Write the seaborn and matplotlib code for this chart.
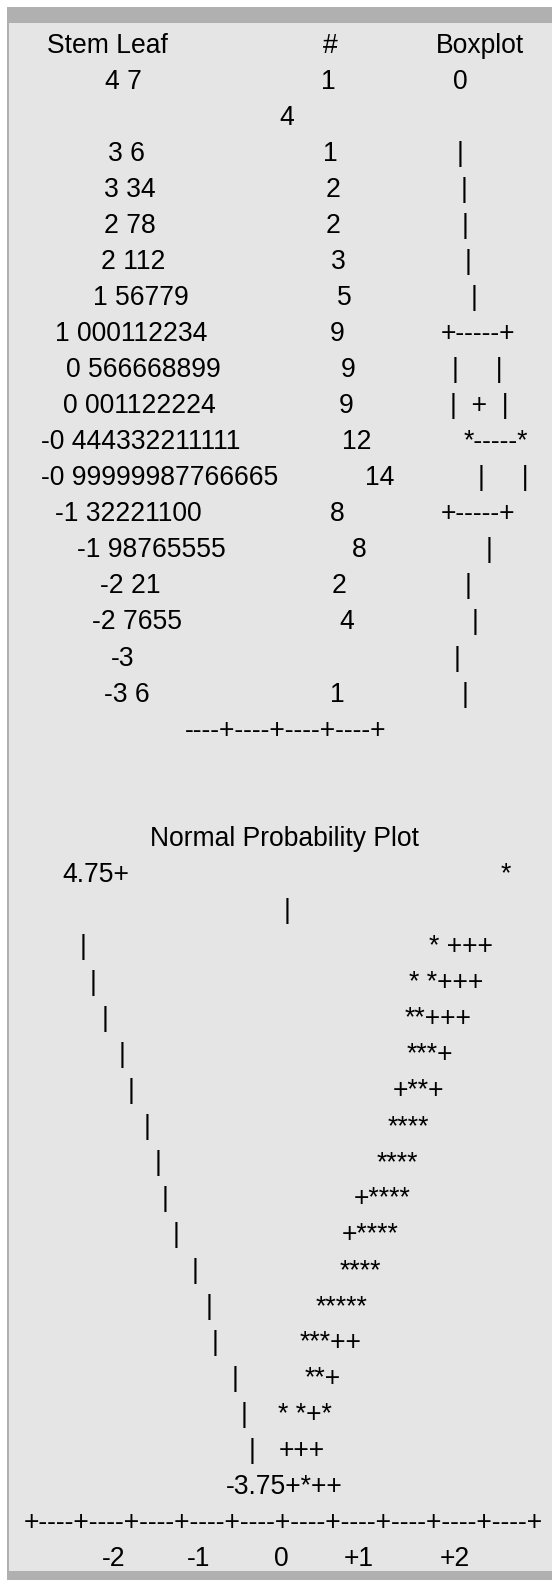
import matplotlib
matplotlib.use('Agg')
import matplotlib.pyplot as plt
from matplotlib.patches import Rectangle
import seaborn as sns

sns.set_theme(style='white')
plt.rcParams['font.family'] = ['Liberation Sans', 'DejaVu Sans']

# ---- data: stem-and-leaf table ----
stems = ['4', '4', '3', '3', '2', '2', '1', '1', '0', '0', '-0', '-0',
         '-1', '-1', '-2', '-2', '-3', '-3']
leaves = ['7', '', '6', '34', '78', '112', '56779', '000112234', '566668899',
          '001122224', '444332211111', '99999987766665', '32221100',
          '98765555', '21', '7655', '', '6']
counts = ['1', '', '1', '2', '2', '3', '5', '9', '9', '9', '12', '14', '8',
          '8', '2', '4', '', '1']
boxplot = ['0', '', '|', '|', '|', '|', '|', '+-----+', '|     |',
           '|  +  |', '*-----*', '|     |', '+-----+', '|', '|', '|', '|', '|']
stem_axis = '----+----+----+----+'

# ---- data: normal probability plot (text rows, top to bottom) ----
npp_title = 'Normal Probability Plot'
npp_ymax, npp_ymin = '4.75+', '-3.75+'
npp_top_point = '*'
npp_rows = ['* +++', '* *+++', '**+++', '***+', '+**+', '****', '****',
            '+****', '+****', '****', '*****', '***++', '**+', '* *+*', '+++']
npp_bottom_row = '*++'
npp_axis = '+----' * 10 + '+'
npp_ticks = ['-2', '-1', '0', '+1', '+2']

# ---- layout (pixel positions of the text lines) ----
stem_x = [105, 279, 108, 104, 104, 101, 93, 55, 66, 63, 41, 41, 55, 77,
          100, 92, 111, 104]
count_x = [321, 0, 323, 326, 326, 331, 337, 330, 341, 339, 342, 365, 330,
           352, 332, 339, 0, 330]
box_x = [453, 0, 457, 460.5, 461.5, 464.5, 470.5, 441, 452.5, 449.5, 464,
         477.5, 441, 485.5, 464.5, 471.5, 453.5, 461.5]
bar_x = [79.5, 89.5, 101.5, 118.5, 127.5, 143.5, 154.5, 161.5, 172.5,
         191.5, 205.5, 211.5, 231.5, 240.5, 248.5]
pts_x = [429, 409, 405, 407, 393, 388, 377, 354, 342, 340, 316, 300, 305,
         278, 279]
tick_x = [102, 187, 274, 344, 440]

FS = 26.5 * 72 / 100
BAND = '#b0b0b0'
FILL = '#e5e5e5'


def row_y(i):
    return 53 + (i - 1) * 36.03


def put(x, i, s):
    if s:
        ax.text(x, row_y(i), s, fontsize=FS, ha='left', va='baseline',
                color='black')


fig = plt.figure(figsize=(5.52, 15.8), dpi=100)
fig.patch.set_facecolor('white')
ax = fig.add_axes([0, 0, 1, 1])
ax.set_xlim(0, 552)
ax.set_ylim(1580, 0)
ax.axis('off')

ax.add_patch(Rectangle((7, 7), 545, 1573, facecolor=BAND, edgecolor='none'))
ax.add_patch(Rectangle((9, 23), 543, 1548, facecolor=FILL, edgecolor='none'))

# ---- stem-and-leaf ----
put(47, 1, 'Stem Leaf')
put(323, 1, '#')
put(436, 1, 'Boxplot')
for k in range(len(stems)):
    r = k + 2
    put(stem_x[k], r, (stems[k] + ' ' + leaves[k]).strip())
    put(count_x[k], r, counts[k])
    put(box_x[k], r, boxplot[k])
put(185, 20, stem_axis)

# ---- normal probability plot ----
put(150, 23, npp_title)
put(62, 24, npp_ymax)
put(501, 24, npp_top_point)
put(283.5, 25, '|')
for k, s in enumerate(npp_rows):
    put(bar_x[k], 26 + k, '|')
    put(pts_x[k], 26 + k, s)
put(226, 41, npp_ymin + npp_bottom_row)
put(24, 42, npp_axis)
for x, t in zip(tick_x, npp_ticks):
    put(x, 43, t)

fig.savefig('out.png', dpi=100, facecolor='white')
